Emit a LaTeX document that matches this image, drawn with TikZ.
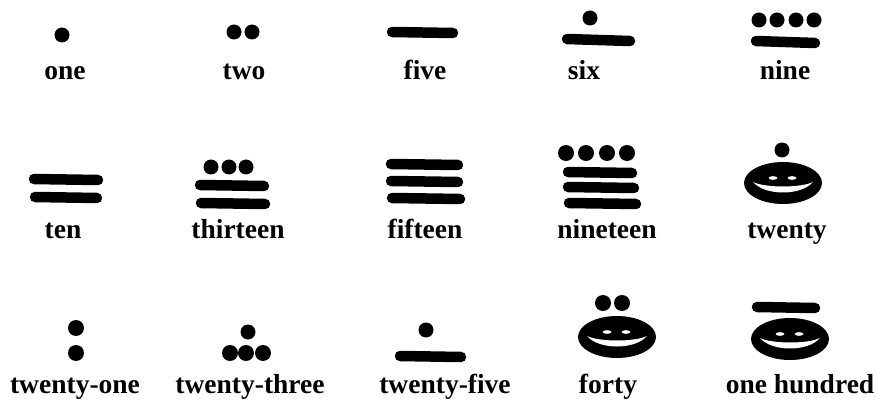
\documentclass[tikz,border=0pt]{standalone}
\usepackage{fontspec}
\setmainfont{Liberation Serif}
\usetikzlibrary{calc}

\begin{document}
\begin{tikzpicture}[
    x=1pt, y=-1pt,
    lab/.style={font=\fontsize{27.5}{30}\selectfont\bfseries, anchor=base, inner sep=0pt},
    mdot/.style={fill=black},
    mbar/.style={line width=10.5pt, line cap=round},
    shell/.pic={
        \fill (0,0) ellipse [x radius=39pt, y radius=21pt];
        \fill[white] (-30,-1) .. controls (-18,13) and (18,13) .. (30,-1)
            .. controls (18,5) and (-18,5) .. cycle;
        \fill[white] (-10,-5) ellipse [x radius=4.5pt, y radius=1.8pt];
        \fill[white] (9,-5) ellipse [x radius=4.5pt, y radius=1.8pt];
    }
]
    \useasboundingbox (0,0) rectangle (876,401);

    % row one: one, two, five, six, nine
    \fill[mdot] (62,35) circle [radius=7.5pt];
    \node[lab] (one) at (65,80) {one};

    \foreach \x in {234,252} \fill[mdot] (\x,32) circle [radius=7.5pt];
    \node[lab] (two) at (244,80) {two};

    \draw[mbar] (392,32) -- (453,33);
    \node[lab] (five) at (425,80) {five};

    \fill[mdot] (590,18) circle [radius=7.5pt];
    \draw[mbar] (567,39) -- (630,41);
    \node[lab] (six) at (584,80) {six};

    \foreach \x in {759,777,796,814} \fill[mdot] (\x,20) circle [radius=7.5pt];
    \draw[mbar] (756,41) -- (815,43);
    \node[lab] (nine) at (785,80) {nine};

    % row two: ten, thirteen, fifteen, nineteen, twenty
    \draw[mbar] (34,179) -- (98,180);
    \draw[mbar] (35,197) -- (97,198);
    \node[lab] (ten) at (63,238) {ten};

    \foreach \x in {211,229,246} \fill[mdot] (\x,167) circle [radius=7.5pt];
    \draw[mbar] (200,185) -- (264,186);
    \draw[mbar] (201,203) -- (265,204);
    \node[lab] (thirteen) at (238,238) {thirteen};

    \draw[mbar] (391,164) -- (458,165);
    \draw[mbar] (391,181) -- (458,182);
    \draw[mbar] (392,198) -- (460,199);
    \node[lab] (fifteen) at (425,238) {fifteen};

    \foreach \x in {566,586,607,627} \fill[mdot] (\x,153) circle [radius=8pt];
    \draw[mbar] (568,172) -- (632,173);
    \draw[mbar] (568,187) -- (634,188);
    \draw[mbar] (569,203) -- (636,204);
    \node[lab] (nineteen) at (607,238) {nineteen};

    \fill[mdot] (782,150) circle [radius=7.5pt];
    \pic at (783,183) {shell};
    \node[lab] (twenty) at (787,238) {twenty};

    % row three: twenty-one, twenty-three, twenty-five, forty, one hundred
    \foreach \y in {328,353} \fill[mdot] (76,\y) circle [radius=8pt];
    \node[lab] (twentyone) at (75,393) {twenty-one};

    \fill[mdot] (248,332) circle [radius=7.5pt];
    \foreach \x in {230,246,263} \fill[mdot] (\x,353) circle [radius=8pt];
    \node[lab] (twentythree) at (250,393) {twenty-three};

    \fill[mdot] (426,330) circle [radius=7.5pt];
    \draw[mbar] (400,356) -- (461,357);
    \node[lab] (twentyfive) at (445,393) {twenty-five};

    \foreach \x in {603,622} \fill[mdot] (\x,303) circle [radius=8pt];
    \pic at (617,337) {shell};
    \node[lab] (forty) at (608,393) {forty};

    \draw[mbar] (757,307) -- (815,308);
    \pic at (790,339) {shell};
    \node[lab] (onehundred) at (800,393) {one hundred};
\end{tikzpicture}
\end{document}
